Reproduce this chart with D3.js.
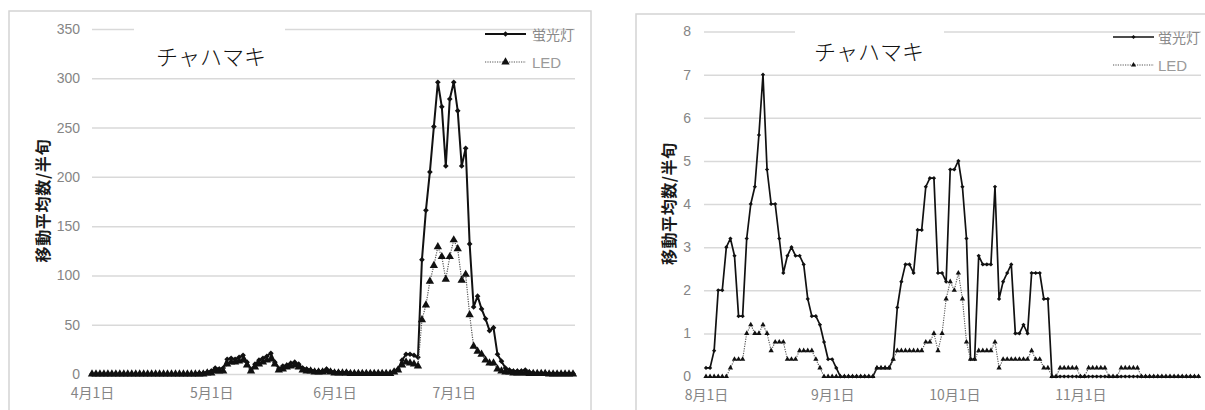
<!DOCTYPE html>
<html>
<head>
<meta charset="utf-8">
<script src="https://cdn.jsdelivr.net/npm/d3@7"></script>
<style>
  html, body { margin: 0; padding: 0; background: #fff; }
  svg { display: block; }
</style>
</head>
<body>
<svg id="chart" width="1205" height="410"></svg>
<script>
// ---------- data ----------
const speciesName = "チャハマキ";
const yAxisTitle = "移動平均数/半旬";
const seriesNames = ["蛍光灯", "LED"];

// Spring–summer season: daily values from 4/1 to 7/31
const springStart = "2018-04-01";
const springTicks = ["2018-04-01", "2018-05-01", "2018-06-01", "2018-07-01"];
const springYTicks = [0, 50, 100, 150, 200, 250, 300, 350];
const springFluorescent = [
  0,0,0,0,0,0,0,0,0,0, 0,0,0,0,0,0,0,0,0,0, 0,0,0,0,0,0,0,
  1,1,2,3,6,5,6,15,16,15,
  17,19,12,4,10,14,16,18,21,12,
  5,8,9,11,12,10,6,5,4,3,
  3,3,5,3,2,2,1,2,1,1,
  1,1,1,1,1,1,1,1,1,3,
  5,14,20,20,19,17,116,166,205,251,
  296,271,211,279,296,267,211,229,132,68,
  79,66,56,44,47,20,13,6,4,3,
  3,3,4,2,1,1,1,1,0.5,0.5,
  0.5,0.5,0.5,0.5,0.5
];
const springLED = [
  0,0,0,0,0,0,0,0,0,0, 0,0,0,0,0,0,0,0,0,0, 0,0,0,0,0,0,0,0,0,
  1,1,3,3,3,10,12,12,13,14,
  9,3,7,10,12,14,15,10,4,5,
  7,8,9,7,4,3,3,2,2,2,
  3,2,1,1,1,1,0.5,0.5,0.5,0.5,
  0.5,0.5,0.5,0.5,0.5,0.5,0.5,2,4,9,
  12,11,10,8,55,70,94,110,129,119,
  96,119,136,127,95,101,60,28,23,20,
  14,11,11,5,3,2,2,1,1,1,
  1,0.5,0.5,0.5,0.5,0.5,0,0,0,0,
  0,0,0
];

// Autumn season: daily values from 8/1 to 11/30
const autumnStart = "2018-08-01";
const autumnTicks = ["2018-08-01", "2018-09-01", "2018-10-01", "2018-11-01"];
const autumnYTicks = [0, 1, 2, 3, 4, 5, 6, 7, 8];
const autumnFluorescent = [
  0.2,0.2,0.6,2.0,2.0,3.0,3.2,2.8,1.4,1.4,
  3.2,4.0,4.4,5.6,7.0,4.8,4.0,4.0,3.2,2.4,
  2.8,3.0,2.8,2.8,2.6,1.8,1.4,1.4,1.2,0.8,
  0.4,0.4,0.2,0,0,0,0,0,0,0,
  0,0,0.2,0.2,0.2,0.2,0.4,1.6,2.2,2.6,
  2.6,2.4,3.4,3.4,4.4,4.6,4.6,2.4,2.4,2.2,
  4.8,4.8,5.0,4.4,3.2,0.4,0.4,2.8,2.6,2.6,
  2.6,4.4,1.8,2.2,2.4,2.6,1.0,1.0,1.2,1.0,
  2.4,2.4,2.4,1.8,1.8,0,0,0,0,0,
  0,0,0,0,0,0,0,0,0,0, 0,0,0,0,0,0,0,0,0,0,
  0,0,0,0,0,0,0,0,0,0, 0,0
];
const autumnLED = [
  0,0,0,0,0,0,0.2,0.4,0.4,0.4,
  1.0,1.2,1.0,1.0,1.2,1.0,0.6,0.8,0.8,0.8,
  0.4,0.4,0.4,0.6,0.6,0.6,0.6,0.4,0.2,0,
  0,0,0,0,0,0,0,0,0,0,
  0,0,0.2,0.2,0.2,0.2,0.4,0.6,0.6,0.6,
  0.6,0.6,0.6,0.6,0.8,0.8,1.0,0.6,1.0,1.8,
  2.2,2.0,2.4,1.8,0.8,0.4,0.4,0.6,0.6,0.6,
  0.6,0.8,0.2,0.4,0.4,0.4,0.4,0.4,0.4,0.4,
  0.6,0.4,0.4,0.2,0.2,0,0,0.2,0.2,0.2,
  0.2,0.2,0,0,0.2,0.2,0.2,0.2,0.2,0,
  0,0,0.2,0.2,0.2,0.2,0.2,0,0,0,
  0,0,0,0,0,0,0,0,0,0,0,0
];

// ---------- drawing ----------
const parseDay = d3.timeParse("%Y-%m-%d");
const svg = d3.select("#chart");
const GRID = "#d9d9d9";
const LABEL = "#858585";
const CJK = "'Noto Sans CJK JP', 'Noto Sans', sans-serif";

function daily(start, values) {
  const s = parseDay(start);
  return values.map((v, i) => ({ date: d3.timeDay.offset(s, i), v }));
}

function drawPanel(p) {
  const g = svg.append("g");

  // panel frame
  g.append("rect")
    .attr("x", p.frame[0]).attr("y", p.frame[1])
    .attr("width", p.frame[2]).attr("height", p.frame[3])
    .attr("fill", "#fff").attr("stroke", "#d4d4d4").attr("stroke-width", 1.5);

  const fl = daily(p.start, p.fluorescent);
  const led = daily(p.start, p.led);

  const x = d3.scaleTime()
    .domain([fl[0].date, fl[fl.length - 1].date])
    .range([p.x0, p.x1]);
  const y = d3.scaleLinear()
    .domain([0, p.yTicks[p.yTicks.length - 1]])
    .range([p.yBase, p.yTop]);

  // y axis with gridlines
  const yAxis = g.append("g")
    .attr("transform", `translate(${p.gridX0},0)`)
    .call(d3.axisLeft(y).tickValues(p.yTicks)
      .tickSize(-(p.gridX1 - p.gridX0)).tickPadding(p.yPad)
      .tickFormat(d3.format("d")));
  yAxis.select(".domain").remove();
  yAxis.selectAll(".tick line").attr("stroke", GRID).attr("stroke-width", 1.5);
  yAxis.selectAll(".tick text")
    .attr("fill", LABEL)
    .style("font-family", "'Liberation Sans', Arial, sans-serif")
    .style("font-size", "14px");

  // x axis date labels
  const xAxis = g.append("g")
    .attr("transform", `translate(0,${p.yBase})`)
    .call(d3.axisBottom(x).tickValues(p.ticks.map(parseDay))
      .tickSize(0).tickPadding(p.xPad)
      .tickFormat(d3.timeFormat("%-m月%-d日")));
  xAxis.select(".domain").remove();
  xAxis.selectAll(".tick text")
    .attr("fill", LABEL)
    .style("font-family", CJK)
    .style("font-size", "14px");

  // species name box over the top gridline
  g.append("rect")
    .attr("x", p.titleBox[0]).attr("y", p.titleBox[1])
    .attr("width", p.titleBox[2]).attr("height", p.titleBox[3])
    .attr("fill", "#fff");
  g.append("text")
    .attr("x", p.titlePos[0]).attr("y", p.titlePos[1])
    .attr("text-anchor", "middle").attr("dominant-baseline", "central")
    .style("font-family", CJK).style("font-weight", 300)
    .style("font-size", "22px").attr("fill", "#111")
    .text(speciesName);

  // y axis title
  g.append("text")
    .attr("transform", `translate(${p.yTitlePos[0]},${p.yTitlePos[1]}) rotate(-90)`)
    .attr("text-anchor", "middle").attr("dominant-baseline", "central")
    .style("font-family", CJK).style("font-weight", 700)
    .style("font-size", "16px").attr("fill", "#1a1a1a")
    .attr("textLength", p.yTitleLen).attr("lengthAdjust", "spacing")
    .text(yAxisTitle);

  const line = d3.line().x(d => x(d.date)).y(d => y(d.v));
  const diamond = d3.symbol().type(d3.symbolSquare).size(p.dotSize);
  const tri = d3.symbol().type(d3.symbolTriangle).size(p.triSize);

  // fluorescent trap series
  g.append("path").datum(fl)
    .attr("d", line).attr("fill", "none")
    .attr("stroke", "#111").attr("stroke-width", p.solidW)
    .attr("stroke-linejoin", "round");
  g.append("g").selectAll("path").data(fl).join("path")
    .attr("transform", d => `translate(${x(d.date)},${y(d.v)}) rotate(45)`)
    .attr("d", diamond).attr("fill", "#111");

  // LED trap series
  g.append("path").datum(led)
    .attr("d", line).attr("fill", "none")
    .attr("stroke", "#555").attr("stroke-width", p.dotW)
    .attr("stroke-dasharray", "1.2,1.2");
  g.append("g").selectAll("path").data(led).join("path")
    .attr("transform", d => `translate(${x(d.date)},${y(d.v)})`)
    .attr("d", tri).attr("fill", "#111");

  // legend
  const lg = g.append("g");
  const [lx0, lx1, ly0, ly1, tx] = p.legend;
  const mid = (lx0 + lx1) / 2;
  lg.append("line").attr("x1", lx0).attr("x2", lx1).attr("y1", ly0).attr("y2", ly0)
    .attr("stroke", "#111").attr("stroke-width", p.solidW);
  lg.append("path").attr("transform", `translate(${mid},${ly0}) rotate(45)`)
    .attr("d", diamond).attr("fill", "#111");
  lg.append("line").attr("x1", lx0).attr("x2", lx1).attr("y1", ly1).attr("y2", ly1)
    .attr("stroke", "#555").attr("stroke-width", p.dotW).attr("stroke-dasharray", "1.2,1.2");
  lg.append("path").attr("transform", `translate(${mid},${ly1})`)
    .attr("d", tri).attr("fill", "#111");
  lg.append("text").attr("x", tx).attr("y", ly0).attr("dominant-baseline", "central")
    .style("font-family", CJK).style("font-size", "14px").attr("fill", "#8a8a8a")
    .text(seriesNames[0]);
  lg.append("text").attr("x", tx).attr("y", ly1).attr("dominant-baseline", "central")
    .style("font-family", "'Liberation Sans', Arial, sans-serif").style("font-size", "15px")
    .attr("fill", "#9a9a9a")
    .text(seriesNames[1]);
}

drawPanel({
  start: springStart, ticks: springTicks, yTicks: springYTicks,
  fluorescent: springFluorescent, led: springLED,
  frame: [9, 11, 582, 420],
  x0: 92, x1: 573, gridX0: 92, gridX1: 575,
  yBase: 374, yTop: 29, yPad: 12, xPad: 14,
  titleBox: [134, 24, 151, 48], titlePos: [211, 55],
  yTitlePos: [42, 201], yTitleLen: 123,
  dotSize: 16, triSize: 30, solidW: 2, dotW: 1.2,
  legend: [485, 526, 34, 62, 532]
});

drawPanel({
  start: autumnStart, ticks: autumnTicks, yTicks: autumnYTicks,
  fluorescent: autumnFluorescent, led: autumnLED,
  frame: [636, 14, 600, 420],
  x0: 706, x1: 1198.5, gridX0: 704, gridX1: 1201,
  yBase: 376.5, yTop: 31.5, yPad: 13, xPad: 14,
  titleBox: [795, 22, 149, 48], titlePos: [869, 50],
  yTitlePos: [668, 204], yTitleLen: 122,
  dotSize: 9, triSize: 12, solidW: 1.7, dotW: 1.1,
  legend: [1113, 1154, 37, 65, 1158]
});
</script>
</body>
</html>
